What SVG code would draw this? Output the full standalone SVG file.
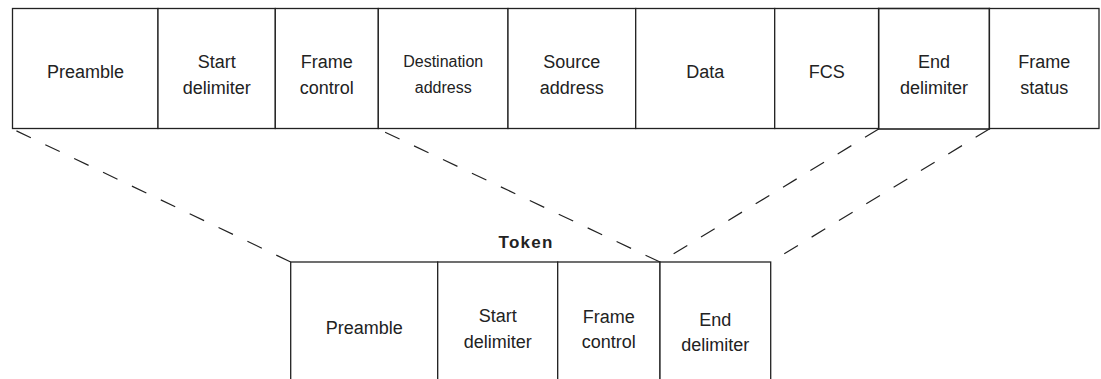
<svg xmlns="http://www.w3.org/2000/svg" width="1101" height="379" viewBox="0 0 1101 379">
<style>
.box{fill:#fff;stroke:#222;stroke-width:1.3}
.bold{stroke-width:1.6}
.t{font-family:"Liberation Sans",Arial,sans-serif;font-size:18px;fill:#222;text-anchor:middle}
.s{font-size:16px}
.title{font-family:"Liberation Sans",Arial,sans-serif;font-size:17px;font-weight:bold;fill:#222;letter-spacing:1.3px}
.dash{stroke:#222;stroke-width:1.2;stroke-dasharray:16 16;fill:none}
</style>
<rect width="1101" height="379" fill="#fff"/>
<g id="frame">
<g id="f-preamble"><rect class="box" x="12.5" y="8.5" width="145.5" height="120"/><text class="t" x="85.5" y="77.5">Preamble</text></g>
<g id="f-start"><rect class="box" x="158" y="8.5" width="117.3" height="120"/><text class="t" x="216.7" y="68.3">Start</text><text class="t" x="216.7" y="94.3">delimiter</text></g>
<g id="f-control"><rect class="box" x="275.3" y="8.5" width="103" height="120"/><text class="t" x="326.8" y="68.3">Frame</text><text class="t" x="326.8" y="94.3">control</text></g>
<g id="f-dest"><rect class="box" x="378.3" y="8.5" width="129.7" height="120"/><text class="t s" x="443.2" y="66.7">Destination</text><text class="t s" x="443.2" y="93.3">address</text></g>
<g id="f-source"><rect class="box" x="508" y="8.5" width="127.7" height="120"/><text class="t" x="571.8" y="68.3">Source</text><text class="t" x="571.8" y="94.3">address</text></g>
<g id="f-data"><rect class="box" x="635.7" y="8.5" width="139" height="120"/><text class="t" x="705.2" y="77.5">Data</text></g>
<g id="f-fcs"><rect class="box" x="774.7" y="8.5" width="104" height="120"/><text class="t" x="826.7" y="77.5">FCS</text></g>
<g id="f-status"><rect class="box" x="989.3" y="8.5" width="109.7" height="120"/><text class="t" x="1044.2" y="68.3">Frame</text><text class="t" x="1044.2" y="94.3">status</text></g>
<g id="f-end"><rect class="box bold" x="878.7" y="8.5" width="110.6" height="120.5"/><text class="t" x="934" y="68.3">End</text><text class="t" x="934" y="94.3">delimiter</text></g>
</g>
<g id="connectors">
<line class="dash" x1="290.7" y1="262" x2="12.5" y2="129"/>
<line class="dash" x1="660" y1="262" x2="378.3" y2="129"/>
<line class="dash" x1="878.7" y1="129" x2="660" y2="262"/>
<line class="dash" x1="989.3" y1="129" x2="770.7" y2="262"/>
</g>
<g id="token">
<text class="title" x="498.5" y="248.3">Token</text>
<g id="t-preamble"><rect class="box" x="290.7" y="262" width="147" height="140"/><text class="t" x="364.2" y="334.3">Preamble</text></g>
<g id="t-start"><rect class="box" x="437.7" y="262" width="120" height="140"/><text class="t" x="497.7" y="322.3">Start</text><text class="t" x="497.7" y="348.3">delimiter</text></g>
<g id="t-control"><rect class="box" x="557.7" y="262" width="102.3" height="140"/><text class="t" x="608.8" y="323.3">Frame</text><text class="t" x="608.8" y="348.3">control</text></g>
<g id="t-end"><rect class="box" x="660" y="262" width="110.7" height="140"/><text class="t" x="715.3" y="325.7">End</text><text class="t" x="715.3" y="350.7">delimiter</text></g>
</g>
</svg>
